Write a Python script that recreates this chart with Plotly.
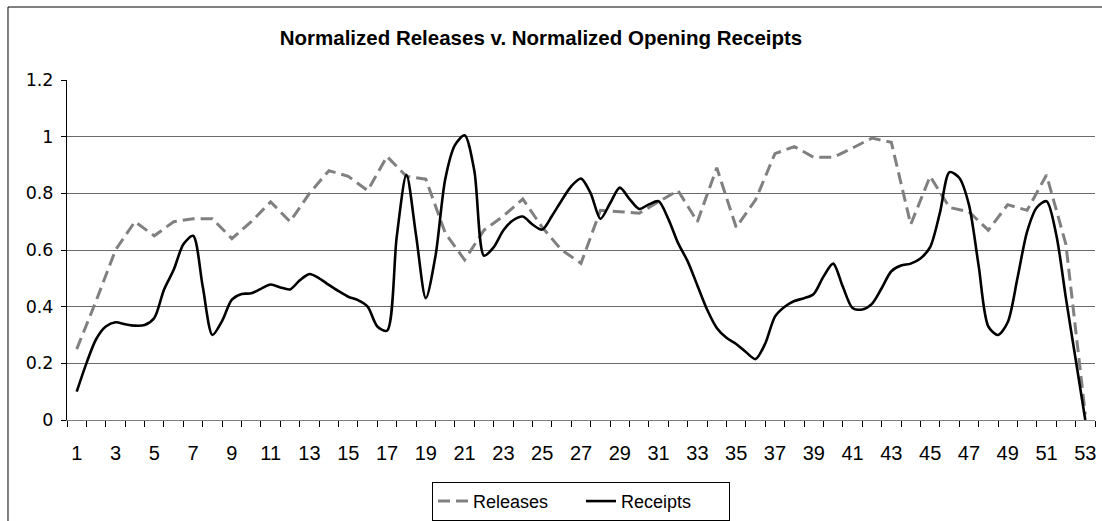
import plotly.graph_objects as go

weeks = list(range(1, 54))
tick_weeks = list(range(1, 54, 2))

releases = [0.25, 0.42, 0.60, 0.70, 0.65, 0.70, 0.71, 0.71, 0.64, 0.70,
            0.77, 0.70, 0.80, 0.88, 0.86, 0.81, 0.93, 0.86, 0.85, 0.66,
            0.565, 0.67, 0.72, 0.78, 0.68, 0.60, 0.553, 0.74, 0.735, 0.73,
            0.77, 0.81, 0.70, 0.89, 0.68, 0.777, 0.94, 0.965, 0.927, 0.927,
            0.96, 0.995, 0.98, 0.69, 0.86, 0.75, 0.735, 0.67, 0.76, 0.74,
            0.865, 0.62, 0.02]

# receipts sampled at half-week resolution (1, 1.5, 2, ..., 53)
receipts_x = [1 + 0.5 * k for k in range(105)]
receipts = [0.10, 0.20, 0.285, 0.33, 0.345, 0.338, 0.333, 0.335, 0.36, 0.46,
            0.53, 0.62, 0.65, 0.47, 0.30, 0.35, 0.425, 0.445, 0.447, 0.463,
            0.478, 0.468, 0.461, 0.493, 0.515, 0.50, 0.477, 0.455, 0.435, 0.423,
            0.40, 0.33, 0.315, 0.647, 0.865, 0.65, 0.43, 0.58, 0.85, 0.97,
            1.005, 0.88, 0.58, 0.61, 0.67, 0.705, 0.718, 0.69, 0.672, 0.72,
            0.775, 0.825, 0.852, 0.80, 0.71, 0.765, 0.82, 0.78, 0.745, 0.761,
            0.772, 0.71, 0.625, 0.56, 0.475, 0.39, 0.325, 0.29, 0.268, 0.24,
            0.215, 0.27, 0.365, 0.40, 0.42, 0.43, 0.445, 0.506, 0.552, 0.47,
            0.395, 0.39, 0.41, 0.465, 0.525, 0.545, 0.552, 0.57, 0.61, 0.73,
            0.875, 0.855, 0.76, 0.545, 0.33, 0.30, 0.345, 0.50, 0.665, 0.75,
            0.772, 0.655, 0.43, 0.215, 0.0]

fig = go.Figure()
fig.add_trace(go.Scatter(
    x=weeks, y=releases, name="Releases", mode="lines",
    line=dict(color="#808080", width=3, dash="12px,6px"),
))
fig.add_trace(go.Scatter(
    x=receipts_x, y=receipts, name="Receipts", mode="lines",
    line=dict(color="#000000", width=2.6, shape="spline", smoothing=0.8),
))

boundaries = [w - 0.5 for w in weeks] + [53.5]

fig.update_layout(
    width=1102, height=521,
    margin=dict(l=67, r=7, t=80, b=101, autoexpand=False),
    paper_bgcolor="white", plot_bgcolor="white",
    font=dict(family="Liberation Sans, Arial, sans-serif", color="black"),
    title=dict(
        text="<b>Normalized Releases v. Normalized Opening Receipts</b>",
        x=541 / 1102, xanchor="center", y=1 - 38 / 521, yanchor="middle",
        font=dict(size=20.5, family="Liberation Sans, Arial, sans-serif", color="black"),
    ),
    showlegend=True,
    legend=dict(
        orientation="h", x=0.5, xanchor="center", y=-0.182, yanchor="top",
        bordercolor="black", borderwidth=1, bgcolor="white",
        font=dict(size=18, family="Liberation Sans, Arial, sans-serif"),
        entrywidth=103, entrywidthmode="pixels",
    ),
    xaxis=dict(
        range=[0.5, 53.5], tickmode="array", tickvals=tick_weeks,
        ticktext=[str(t) for t in tick_weeks],
        ticks="outside", ticklen=6, tickcolor="rgba(0,0,0,0)",
        minor=dict(tickmode="array", tickvals=boundaries, ticks="outside",
                   ticklen=6, tickcolor="black", showgrid=False),
        showline=True, linecolor="#808080", linewidth=1,
        showgrid=False, zeroline=False,
        tickfont=dict(size=20, family="Liberation Sans, Arial, sans-serif"),
        ticklabelstandoff=9,
    ),
    yaxis=dict(
        range=[0, 1.2], tickmode="array", tickvals=[0, 0.2, 0.4, 0.6, 0.8, 1.0, 1.2],
        ticktext=["0", "0.2", "0.4", "0.6", "0.8", "1", "1.2"],
        ticks="outside", ticklen=5, tickcolor="black",
        showline=True, linecolor="black", linewidth=1,
        showgrid=True, gridcolor="#6a6a6a", gridwidth=1, zeroline=False,
        tickfont=dict(size=17.5, family="DejaVu Sans, sans-serif"),
        ticklabelstandoff=4,
    ),
    shapes=[
        dict(type="line", xref="paper", yref="paper", x0=-0.0574, x1=-0.0574,
             y0=1.2147, y1=-0.4, line=dict(color="black", width=1)),
        dict(type="line", xref="paper", yref="paper", x0=-0.0574, x1=1.1,
             y0=1.2147, y1=1.2147, line=dict(color="black", width=1)),
    ],
)

fig.write_html(
    "out.html",
    config={"displayModeBar": False},
    post_script="document.body.style.margin='0';document.body.style.overflow='hidden';",
)
